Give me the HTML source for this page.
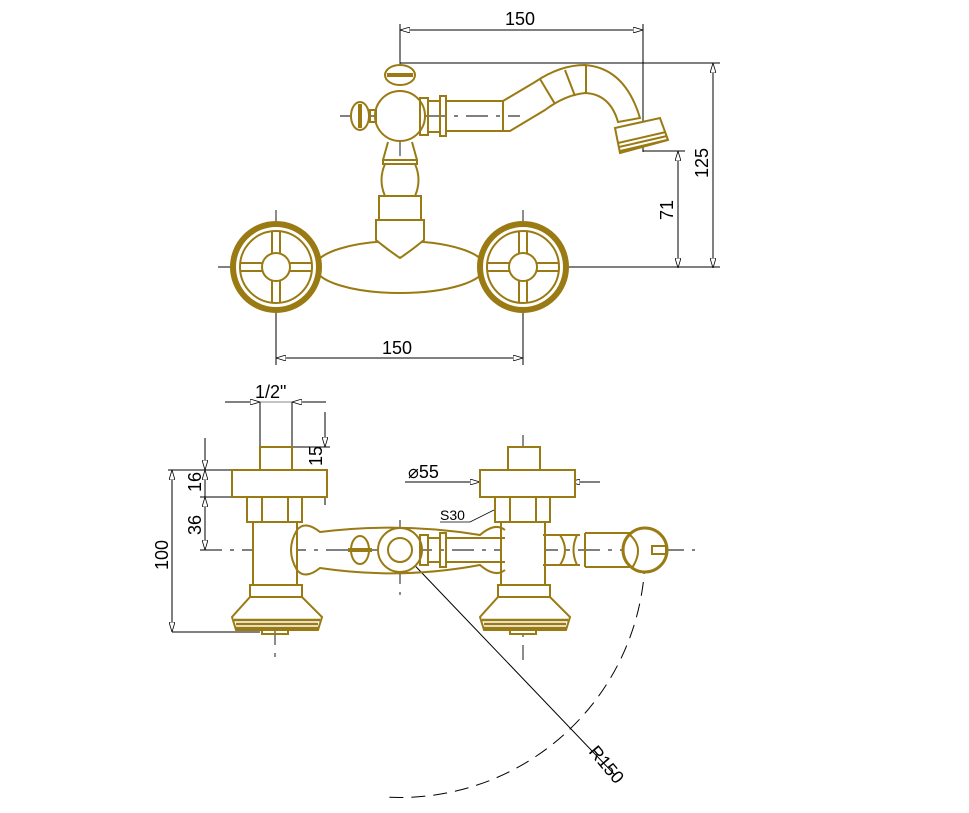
<!DOCTYPE html>
<html><head><meta charset="utf-8"><style>html,body{margin:0;padding:0;background:#fff}svg{display:block}</style></head><body>
<svg width="969" height="813" viewBox="0 0 969 813" xmlns="http://www.w3.org/2000/svg" font-family="Liberation Sans, sans-serif">
<defs>
<marker id="a" viewBox="0 0 10 6" refX="10" refY="3" markerWidth="10" markerHeight="6" orient="auto-start-reverse"><path d="M0,0 L10,3 L0,6 Z" fill="#fff" stroke="#000" stroke-width="0.8"/></marker>
</defs>
<g stroke="#000" stroke-width="1" fill="none">
<!-- top dims -->
<line x1="400" y1="30" x2="643" y2="30" marker-start="url(#a)" marker-end="url(#a)"/>
<line x1="400" y1="24" x2="400" y2="60"/><line x1="643" y1="24" x2="643" y2="152"/>
<line x1="400" y1="63" x2="720" y2="63"/>
<line x1="713" y1="63" x2="713" y2="268" marker-start="url(#a)" marker-end="url(#a)"/>
<line x1="643" y1="151" x2="685" y2="151"/>
<line x1="678" y1="151" x2="678" y2="268" marker-start="url(#a)" marker-end="url(#a)"/>
<line x1="560" y1="267" x2="720" y2="267"/>
<line x1="276" y1="358" x2="523" y2="358" marker-start="url(#a)" marker-end="url(#a)"/>
<line x1="276" y1="312" x2="276" y2="365"/><line x1="523" y1="312" x2="523" y2="365"/>
<!-- bottom dims -->
<line x1="225" y1="402" x2="260" y2="402" marker-end="url(#a)"/><line x1="326" y1="402" x2="292" y2="402" marker-end="url(#a)"/>
<line x1="260" y1="402" x2="292" y2="402" stroke="#888"/>
<line x1="260" y1="402" x2="260" y2="447"/><line x1="292" y1="402" x2="292" y2="447"/>
<line x1="292" y1="447" x2="330" y2="447"/>
<line x1="325" y1="412" x2="325" y2="447" marker-end="url(#a)"/><line x1="325" y1="505" x2="325" y2="470" marker-end="url(#a)"/>
<line x1="168" y1="470" x2="232" y2="470"/><line x1="200" y1="497" x2="232" y2="497"/>
<line x1="172" y1="470" x2="172" y2="632" marker-start="url(#a)" marker-end="url(#a)"/>
<line x1="172" y1="632" x2="260" y2="632"/>
<line x1="205" y1="438" x2="205" y2="470" marker-end="url(#a)"/><line x1="205" y1="497" x2="205" y2="470" marker-end="url(#a)"/>
<line x1="205" y1="497" x2="205" y2="550" marker-start="url(#a)" marker-end="url(#a)"/>
<line x1="405" y1="482" x2="480" y2="482" marker-end="url(#a)"/><line x1="600" y1="482" x2="570" y2="482" marker-end="url(#a)"/>
<polyline points="440,522 470,522 500,507" stroke-width="0.8"/><circle cx="500" cy="506" r="1.5" fill="#000"/>
<line x1="400" y1="550" x2="615" y2="775"/>
<path d="M645,560 A245,245 0 0 1 385,797" stroke-dasharray="14,8"/>
<!-- center lines -->
<g stroke-dasharray="22,8,4,8" stroke-width="0.9">
<line x1="400" y1="50" x2="400" y2="300"/>
<line x1="218" y1="267" x2="580" y2="267"/>
<line x1="276" y1="210" x2="276" y2="320"/><line x1="523" y1="210" x2="523" y2="320"/>
<line x1="340" y1="116" x2="520" y2="116"/>
<line x1="200" y1="550" x2="695" y2="550"/>
<line x1="275" y1="455" x2="275" y2="660"/><line x1="523" y1="435" x2="523" y2="660"/>
<line x1="400" y1="520" x2="400" y2="595"/>
</g>
</g>
<g stroke="#9a7a12" stroke-width="2" fill="none">
<!-- top view wheels -->
<ellipse cx="400" cy="267" rx="85" ry="26" fill="#fff"/>
<g><circle cx="276" cy="267" r="43" stroke-width="6" fill="#fff"/><circle cx="276" cy="267" r="36"/><circle cx="276" cy="267" r="14"/>
<path d="M272,231 V253 M280,231 V253 M272,281 V303 M280,281 V303 M240,263 H262 M240,271 H262 M290,263 H312 M290,271 H312"/></g>
<g><circle cx="523" cy="267" r="43" stroke-width="6" fill="#fff"/><circle cx="523" cy="267" r="36"/><circle cx="523" cy="267" r="14"/>
<path d="M519,231 V253 M527,231 V253 M519,281 V303 M527,281 V303 M487,263 H509 M487,271 H509 M537,263 H559 M537,271 H559"/></g>
<!-- column -->
<path d="M376,220 H424 V240 Q412,250 400,258 Q388,250 376,240 Z" fill="#fff"/>
<rect x="379" y="196" width="42" height="24" fill="#fff"/>
<path d="M385,164 Q378,180 385,196 H415 Q422,180 415,164 Z" fill="#fff"/>
<path d="M383,160 H417 V164 H383 Z M388,142 L383,160 M412,142 L417,160"/>
<circle cx="400" cy="116" r="25" fill="#fff"/>
<ellipse cx="400" cy="75" rx="15" ry="10" fill="#fff"/><line x1="387" y1="75" x2="413" y2="75" stroke-width="4"/>
<rect x="370" y="110" width="6" height="12"/>
<ellipse cx="360" cy="116" rx="9" ry="14" fill="#fff"/><line x1="360" y1="104" x2="360" y2="128" stroke-width="4"/>
<rect x="420" y="98" width="8" height="37"/><rect x="428" y="101" width="12" height="31"/><rect x="440" y="96" width="6" height="40"/>
<path d="M446,101 H503 L535,82 Q560,65 585,65 Q625,68 640,118 L618,122 Q610,94 585,93 Q565,95 545,110 L510,131 H446"/>
<path d="M503,101 V131 M540,79 L555,104 M565,70 L575,96 M586,65 V93"/>
<path d="M615,128 L660,118 L668,140 L620,153 Z" fill="#fff"/>
<path d="M618,143 L666,132 M619,147 L667,136 M620,151 L667,140" />
<!-- bottom view valves -->
<g id="v">
<rect x="260" y="447" width="32" height="23" fill="#fff"/>
<rect x="232" y="470" width="95" height="27" fill="#fff"/>
<rect x="247" y="497" width="55" height="25" fill="#fff"/><path d="M262,497 V522 M288,497 V522"/>
<rect x="253" y="522" width="44" height="63" fill="#fff"/>
<rect x="250" y="585" width="52" height="12" fill="#fff"/>
<path d="M250,597 H302 L322,617 L318,630 H236 L232,617 Z" fill="#fff"/>
<path d="M234,620 H320 M236,624 H318 M236,628 H318" stroke-width="2.5"/>
<rect x="262" y="630" width="26" height="4"/>
</g>
<use href="#v" x="248"/>
<path d="M297,530 Q305,520 320,532 Q400,522 480,535 Q495,522 505,530 M297,570 Q305,580 320,568 Q400,580 480,565 Q495,578 505,570" fill="none"/>
<path d="M297,530 Q285,550 297,570"/>
<circle cx="400" cy="550" r="22" fill="#fff"/><circle cx="400" cy="550" r="12"/>
<ellipse cx="360" cy="550" rx="9" ry="14" fill="#fff"/><line x1="348" y1="550" x2="372" y2="550" stroke-width="4"/>
<rect x="420" y="535" width="8" height="30"/><rect x="428" y="538" width="12" height="24"/><rect x="440" y="533" width="6" height="34"/>
<path d="M446,538 H505 M446,562 H505"/>
<path d="M543,535 H560 M543,565 H560 M560,535 Q570,550 560,565 M577,535 Q570,550 577,565 M560,535 H580 M560,565 H580 M585,533 H640 M585,567 H640 M585,533 V567"/>
<circle cx="645" cy="550" r="22" fill="#fff" stroke-width="3"/><path d="M630,535 Q645,548 632,568"/><rect x="652" y="546" width="14" height="8"/>
</g>
<g font-size="18" fill="#000">
<text x="505" y="25">150</text>
<text x="382" y="354">150</text>
<text transform="translate(708,178) rotate(-90)">125</text>
<text transform="translate(673,220) rotate(-90)">71</text>
<text x="255" y="398">1/2"</text>
<text transform="translate(322,466) rotate(-90)">15</text>
<text transform="translate(201,492) rotate(-90)">16</text>
<text transform="translate(201,535) rotate(-90)">36</text>
<text transform="translate(168,570) rotate(-90)">100</text>
<text x="408" y="478">⌀55</text>
<text x="440" y="520" font-size="14">S30</text>
<text transform="translate(588,752) rotate(50)">R150</text>
</g>
</svg>
</body></html>
